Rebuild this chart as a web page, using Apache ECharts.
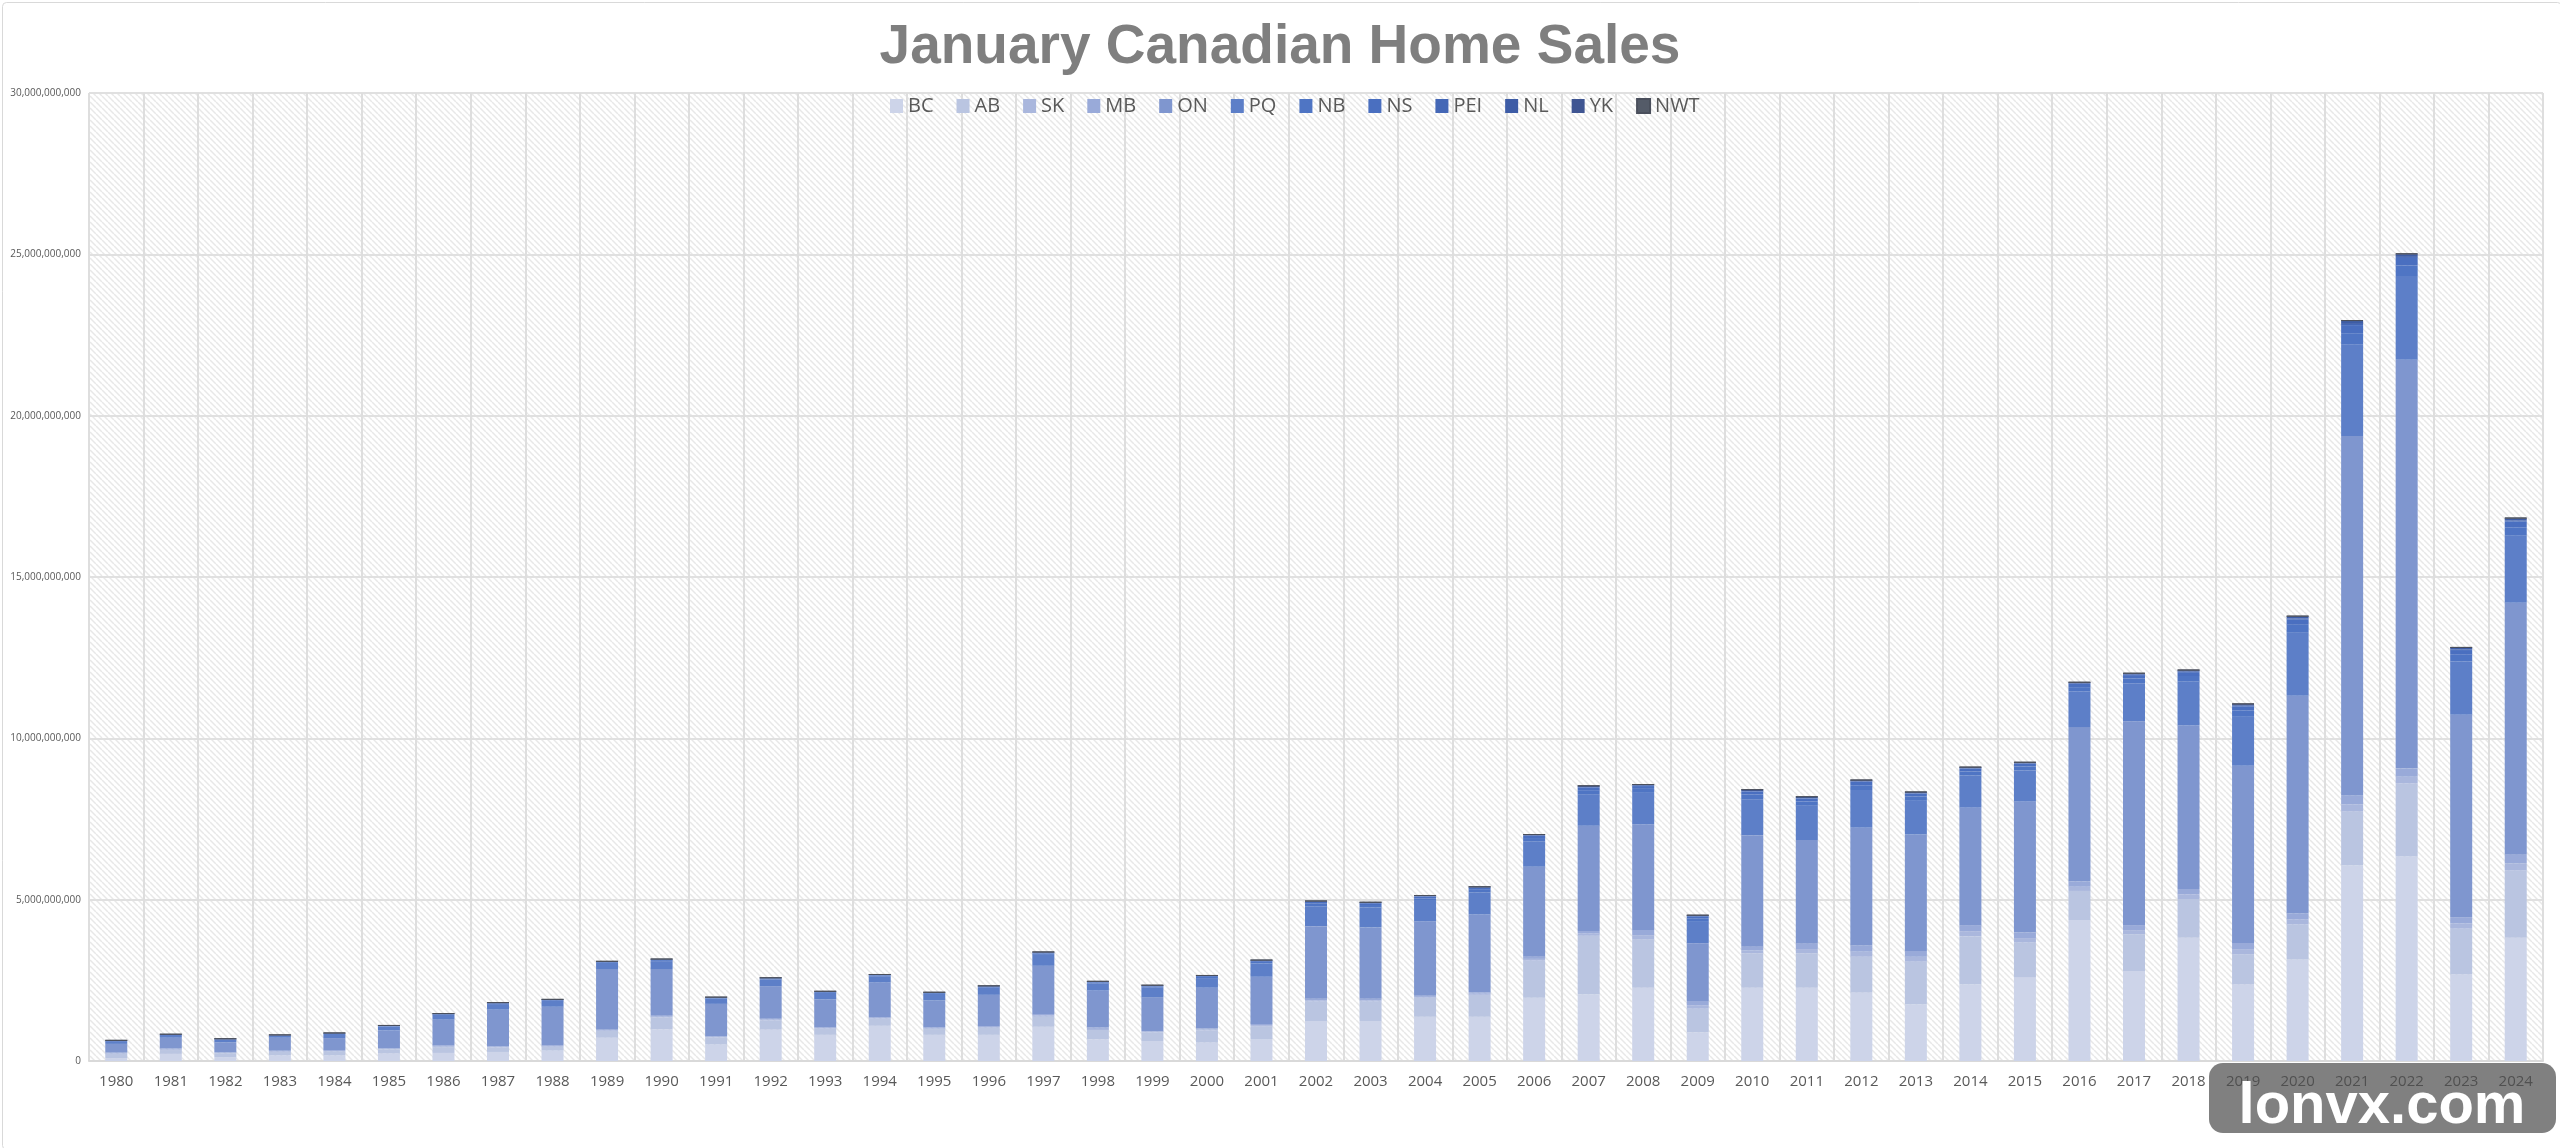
<!DOCTYPE html>
<html>
<head>
<meta charset="utf-8">
<script src="https://cdn.jsdelivr.net/npm/echarts@6/dist/echarts.min.js"></script>
<style>
html,body{margin:0;padding:0;background:#fff;}
#chart{width:2560px;height:1148px;}
</style>
</head>
<body>
<div id="chart"></div>
<script>
// Values in billions of dollars (January home sales by province)
const years = ['1980','1981','1982','1983','1984','1985','1986','1987','1988','1989','1990','1991','1992','1993','1994','1995','1996','1997','1998','1999','2000','2001','2002','2003','2004','2005','2006','2007','2008','2009','2010','2011','2012','2013','2014','2015','2016','2017','2018','2019','2020','2021','2022','2023','2024'];
const BC  = [0.09,0.22,0.12,0.17,0.17,0.23,0.25,0.28,0.32,0.72, 0.98,0.51,0.97,0.81,1.09,0.81,0.81,1.06,0.67,0.62, 0.57,0.68,1.24,1.24,1.37,1.37,1.96,2.07,2.27,0.89, 2.27,2.27,2.12,1.76,2.38,2.60,4.37,2.79,3.82,2.37, 3.15,6.07,6.34,2.68,3.82];
const AB  = [0.13,0.12,0.12,0.11,0.12,0.13,0.18,0.14,0.12,0.21, 0.37,0.22,0.29,0.19,0.22,0.18,0.22,0.31,0.29,0.27, 0.38,0.40,0.60,0.60,0.59,0.68,1.15,1.81,1.50,0.73, 1.07,1.07,1.11,1.32,1.49,1.07,0.90,1.14,1.20,0.94, 1.08,1.66,2.26,1.42,2.09];
const SK  = [0.018,0.022,0.013,0.018,0.022,0.018,0.027,0.018,0.022,0.022, 0.022,0.018,0.022,0.018,0.018,0.022,0.022,0.040,0.036,0.018, 0.027,0.032,0.040,0.040,0.027,0.036,0.054,0.068,0.130,0.108, 0.090,0.130,0.158,0.149,0.153,0.140,0.130,0.126,0.140,0.158, 0.153,0.225,0.210,0.162,0.216];
const MB  = [0.022,0.028,0.017,0.022,0.028,0.022,0.033,0.022,0.028,0.028, 0.028,0.022,0.028,0.022,0.022,0.028,0.028,0.050,0.044,0.022, 0.033,0.038,0.050,0.050,0.033,0.044,0.066,0.082,0.160,0.132, 0.110,0.160,0.192,0.181,0.187,0.170,0.160,0.154,0.170,0.192, 0.187,0.275,0.260,0.198,0.264];
const ON  = [0.27,0.33,0.31,0.40,0.37,0.55,0.79,1.13,1.19,1.87, 1.45,1.00,1.01,0.87,1.08,0.84,0.97,1.49,1.14,1.05, 1.26,1.46,2.25,2.21,2.31,2.41,2.79,3.26,3.27,1.79, 3.46,3.22,3.65,3.61,3.64,4.06,4.79,6.32,5.07,5.49, 6.75,11.14,12.66,6.27,7.81];
const PQ  = [0.087,0.087,0.087,0.071,0.126,0.119,0.150,0.174,0.182,0.190, 0.245,0.166,0.205,0.198,0.198,0.198,0.221,0.340,0.229,0.292, 0.300,0.411,0.616,0.616,0.632,0.679,0.790,0.980,0.980,0.687, 1.114,1.059,1.169,1.043,0.995,0.964,1.098,1.177,1.359,1.517, 1.951,2.828,2.599,1.651,2.078];
const NB  = [0.011,0.011,0.011,0.009,0.016,0.015,0.019,0.022,0.023,0.024, 0.031,0.021,0.026,0.025,0.025,0.025,0.028,0.043,0.029,0.037, 0.038,0.052,0.078,0.078,0.080,0.086,0.100,0.124,0.124,0.087, 0.141,0.134,0.148,0.132,0.126,0.122,0.139,0.149,0.172,0.192, 0.247,0.358,0.329,0.209,0.263];
const NS  = [0.008,0.008,0.008,0.006,0.011,0.011,0.013,0.015,0.016,0.017, 0.022,0.015,0.018,0.018,0.018,0.018,0.020,0.030,0.020,0.026, 0.027,0.036,0.055,0.055,0.056,0.060,0.070,0.087,0.087,0.061, 0.099,0.094,0.104,0.092,0.088,0.085,0.097,0.104,0.120,0.134, 0.173,0.251,0.230,0.146,0.184];
const PEI = [0.001,0.001,0.001,0.001,0.002,0.002,0.002,0.002,0.002,0.002, 0.003,0.002,0.003,0.003,0.003,0.003,0.003,0.004,0.003,0.004, 0.004,0.005,0.008,0.008,0.008,0.009,0.010,0.012,0.012,0.009, 0.014,0.013,0.015,0.013,0.013,0.012,0.014,0.015,0.017,0.019, 0.025,0.036,0.033,0.021,0.026];
const NL  = [0.003,0.003,0.003,0.002,0.004,0.004,0.005,0.006,0.006,0.006, 0.008,0.005,0.007,0.006,0.006,0.006,0.007,0.011,0.007,0.009, 0.010,0.013,0.020,0.020,0.020,0.022,0.025,0.031,0.031,0.022, 0.035,0.034,0.037,0.033,0.032,0.031,0.035,0.037,0.043,0.048, 0.062,0.090,0.082,0.052,0.066];
const YK  = [0.0003,0.0003,0.0003,0.0003,0.0005,0.0005,0.0006,0.0007,0.0007,0.0007, 0.0009,0.0006,0.0008,0.0008,0.0008,0.0008,0.0008,0.0013,0.0009,0.0011, 0.0011,0.0016,0.0023,0.0023,0.0024,0.0026,0.0030,0.0037,0.0037,0.0026, 0.0042,0.0040,0.0044,0.0040,0.0038,0.0037,0.0042,0.0045,0.0052,0.0058, 0.0074,0.0107,0.0099,0.0063,0.0079];
const NWT = [0.0002,0.0002,0.0002,0.0002,0.0003,0.0003,0.0004,0.0004,0.0005,0.0005, 0.0006,0.0004,0.0005,0.0005,0.0005,0.0005,0.0006,0.0009,0.0006,0.0007, 0.0008,0.0010,0.0016,0.0016,0.0016,0.0017,0.0020,0.0025,0.0025,0.0017, 0.0028,0.0027,0.0030,0.0026,0.0025,0.0024,0.0028,0.0030,0.0034,0.0038, 0.0049,0.0072,0.0066,0.0042,0.0053];
const UNIT = 1e9; // values above are in billions

const seriesDefs = [
  ['BC', BC, '#cdd4e9'],
  ['AB', AB, '#bac5e1'],
  ['SK', SK, '#aab7dd'],
  ['MB', MB, '#99aad9'],
  ['ON', ON, '#7f96cf'],
  ['PQ', PQ, '#5d7fc8'],
  ['NB', NB, '#4f75c4'],
  ['NS', NS, '#4a6fc0'],
  ['PEI', PEI, '#4467b6'],
  ['NL', NL, '#3d5ca6'],
  ['YK', YK, '#3f5592'],
  ['NWT', NWT, '#545b68']
];

// diagonal hatch tile for plot background
const tile = document.createElement('canvas');
tile.width = 6; tile.height = 6;
const tc = tile.getContext('2d');
tc.fillStyle = '#ffffff'; tc.fillRect(0,0,6,6);
tc.strokeStyle = '#e8e8e8'; tc.lineWidth = 1.5;
for (let o = -6; o <= 6; o += 6) { tc.beginPath(); tc.moveTo(o, 0); tc.lineTo(o + 6, 6); tc.stroke(); }

const chart = echarts.init(document.getElementById('chart'), null, {renderer: 'canvas'});
const option = {
  animation: false,
  backgroundColor: '#ffffff',
  title: {
    text: 'January Canadian Home Sales',
    left: 'center',
    top: 20,
    padding: 0,
    textStyle: {fontFamily: 'Liberation Sans', fontWeight: 'bold', fontSize: 55, color: '#7f7f7f'}
  },
  legend: {
    left: 890,
    top: 96,
    padding: 0,
    icon: 'rect',
    itemWidth: 13,
    itemHeight: 14,
    itemGap: 23,
    textStyle: {fontFamily: 'Open Sans', fontSize: 20, color: '#595959'},
    data: seriesDefs.map(d => d[0])
  },
  grid: {
    left: 89, right: 17, top: 93, bottom: 87,
    show: true,
    borderWidth: 0,
    backgroundColor: {image: tile, repeat: 'repeat'}
  },
  xAxis: {
    type: 'category',
    data: years,
    axisTick: {show: false},
    axisLine: {lineStyle: {color: '#d9d9d9', width: 2}},
    splitLine: {show: true, lineStyle: {color: '#dedede', width: 2}},
    axisLabel: {fontFamily: 'Open Sans', fontSize: 15, color: '#595959', margin: 13, interval: 0}
  },
  yAxis: {
    type: 'value',
    min: 0, max: 30, interval: 5,
    axisLine: {show: false},
    axisTick: {show: false},
    splitLine: {lineStyle: {color: '#e0e0e0', width: 2}},
    axisLabel: {
      fontFamily: 'Open Sans', fontSize: 10, color: '#595959', margin: 8,
      formatter: v => (v * UNIT).toLocaleString('en-US')
    }
  },
  series: seriesDefs.map((d, i) => ({
    name: d[0],
    type: 'bar',
    stack: 'total',
    barWidth: 22,
    data: d[1],
    itemStyle: Object.assign({color: d[2]}, i === seriesDefs.length - 1 ? {borderColor: '#4a4f5c', borderWidth: 1} : {}),
    emphasis: {disabled: true}
  })),
  graphic: [
    {type: 'rect', left: 0, top: 0, z: 100, silent: true,
     shape: {x: 0.5, y: 0.5, width: 2559, height: 1147, r: 4},
     style: {fill: null, stroke: '#d9d9d9', lineWidth: 1}},
    {type: 'rect', z: 101, silent: true,
     shape: {x: 2209, y: 1063, width: 347, height: 70, r: 14},
     style: {fill: 'rgba(76,76,76,0.71)'}},
    {type: 'text', z: 102, silent: true,
     style: {x: 2382, y: 1107, text: 'lonvx.com', fill: '#ffffff', align: 'center', verticalAlign: 'middle',
             font: 'bold 58px "Liberation Sans"', textShadowColor: '#111111', textShadowOffsetX: 3, textShadowOffsetY: 3, textShadowBlur: 0}}
  ]
};
chart.setOption(option);
</script>
</body>
</html>
